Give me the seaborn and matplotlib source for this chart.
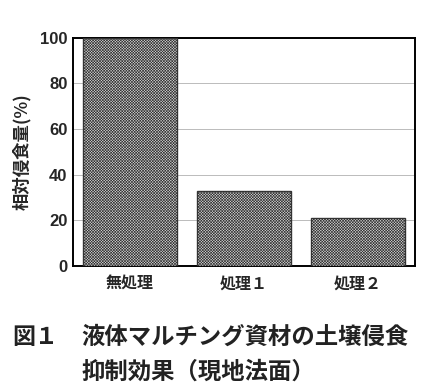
import matplotlib
matplotlib.use("Agg")
import matplotlib.pyplot as plt
import seaborn as sns
import pandas as pd

categories = ["無処理", "処理１", "処理２"]
values = [100, 33, 21]
yticks = [0, 20, 40, 60, 80, 100]
ylabel = "相対侵食量(%)"
caption1 = "図１　液体マルチング資材の土壌侵食"
caption2 = "抑制効果（現地法面）"

sns.set_theme(style="white")
plt.rcParams['font.family'] = ['Noto Sans CJK JP', 'DejaVu Sans']
plt.rcParams['hatch.linewidth'] = 0.45

df = pd.DataFrame({"cat": categories, "val": values})

fig = plt.figure(figsize=(4.30, 3.92), dpi=100)
ax = fig.add_axes([73/430, 1-266/392, (415-73)/430, (266-37.5)/392])

sns.barplot(data=df, x="cat", y="val", ax=ax, width=0.82,
            color="#d8d8d8", edgecolor="#333333", linewidth=1.0, hatch="x" * 12, zorder=3)

ax.set_ylim(0, 100)
ax.set_xlim(-0.5, 2.5)
ax.set_yticks(yticks)
ax.set_yticklabels([str(t) for t in yticks], fontsize=12, fontweight="bold",
                   family=["Liberation Sans", "DejaVu Sans"])
ax.set_xticks(range(len(categories)))
ax.set_xticklabels(categories, fontsize=11.5, fontweight="bold")
ax.tick_params(axis="y", length=0, pad=4)
ax.tick_params(axis="x", length=0, pad=7)
ax.set_xlabel("")
ax.set_ylabel(ylabel, fontsize=12.5, fontweight="bold", labelpad=6)
ax.yaxis.grid(True, color="#bbbbbb", linewidth=0.7, zorder=0)
for s in ax.spines.values():
    s.set_color("black")
    s.set_linewidth(1.4)
    s.set_visible(True)

fig.text(12/430, 1-337/392, caption1.split("　")[0], fontsize=16.5, fontweight="bold", va="center", ha="left", color="#222222")
fig.text(81/430, 1-337/392, caption1.split("　")[1], fontsize=16.8, fontweight="bold", va="center", ha="left", color="#222222")
fig.text(81/430, 1-372/392, caption2, fontsize=16.8, fontweight="bold", va="center", ha="left", color="#222222")

fig.savefig("out.png", dpi=100)
